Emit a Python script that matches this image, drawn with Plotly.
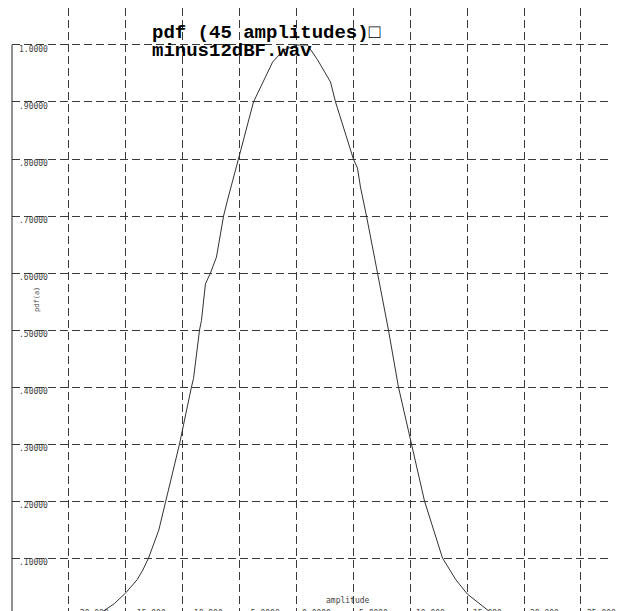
import plotly.graph_objects as go

# ---- data ----
amp = [-20.0, -17.6, -16.96, -16.0, -15.0, -14.0, -13.5, -13.0, -12.1, -11.34,
       -10.28, -9.23, -9.05, -8.52, -8.35, -8.0, -7.56, -7.03, -6.41, -6.06,
       -5.36, -5.1, -3.78, -2.1, -1.14, 0.0, 0.97, 1.85, 2.99, 3.43,
       5.0, 5.36, 5.62, 6.15, 7.12, 8.08, 8.96, 10.1, 11.25, 12.83,
       14.0, 15.0, 16.9, 17.6, 20.0]
pdf = [0.0, 0.0, 0.007, 0.02, 0.039, 0.062, 0.079, 0.10, 0.149, 0.214,
       0.30, 0.40, 0.415, 0.50, 0.517, 0.581, 0.60, 0.628, 0.70, 0.728,
       0.784, 0.80, 0.90, 0.970, 0.991, 1.0, 1.0, 0.974, 0.935, 0.90,
       0.80, 0.784, 0.751, 0.70, 0.60, 0.50, 0.40, 0.30, 0.20, 0.10,
       0.062, 0.037, 0.007, 0.0, 0.0]

x_tick_vals = [-20, -15, -10, -5, 0, 5, 10, 15, 20, 25]
x_tick_text = ["-20.000", "-15.000", "-10.000", "-5.0000", "0.0000",
               "5.0000", "10.000", "15.000", "20.000", "25.000"]
y_tick_vals = [0.1, 0.2, 0.3, 0.4, 0.5, 0.6, 0.7, 0.8, 0.9, 1.0]
y_tick_text = [".10000", ".20000", ".30000", ".40000", ".50000",
               ".60000", ".70000", ".80000", ".90000", "1.0000"]

title_line1 = "pdf (45 amplitudes)\u25a1"
title_line2 = "minus12dBF.wav"
x_title = "amplitude"
y_title = "pdf(a)"

GRID = "#3a3a3a"
TICKFONT = dict(family="DejaVu Sans Mono", size=8, color="#444444")

fig = go.Figure()
fig.add_trace(go.Scatter(x=amp, y=pdf, mode="lines",
                         line=dict(color="#333333", width=1),
                         showlegend=False, hoverinfo="skip"))

annotations = []
for v, t in zip(x_tick_vals, x_tick_text):
    annotations.append(dict(x=v, y=0, xref="x", yref="paper", text=t,
                            showarrow=False, xanchor="left", yanchor="middle",
                            xshift=4, yshift=-2, font=TICKFONT))
annotations += [
    dict(x=0.23, y=0.959, xref="paper", yref="paper", text=title_line1,
         showarrow=False, xanchor="left", yanchor="middle",
         font=dict(family="Liberation Mono", size=19, color="black", weight="bold")),
    dict(x=0.23, y=0.928, xref="paper", yref="paper", text=title_line2,
         showarrow=False, xanchor="left", yanchor="middle",
         font=dict(family="Liberation Mono", size=19, color="black", weight="bold")),
    dict(x=0.562, y=0.017, xref="paper", yref="paper", text=x_title,
         showarrow=False, xanchor="center", yanchor="middle", font=TICKFONT),
    dict(x=0.042, y=0.516, xref="paper", yref="paper", text=y_title,
         showarrow=False, xanchor="center", yanchor="middle", textangle=-90,
         font=dict(family="DejaVu Sans Mono", size=7, color="#444444")),
]

shapes = [dict(type="line", xref="paper", yref="y", x0=0, x1=0,
               y0=0, y1=max(y_tick_vals), line=dict(color="#222222", width=1))]

fig.update_layout(
    width=618, height=611,
    margin=dict(l=12, r=8, t=8, b=0, pad=0),
    paper_bgcolor="white", plot_bgcolor="white",
    xaxis=dict(range=[-25, 27.55], tickvals=x_tick_vals, showticklabels=False,
               showgrid=True, gridcolor=GRID, gridwidth=1, griddash="8px,4px",
               zeroline=False, showline=False, ticks=""),
    yaxis=dict(range=[0.00702, 1.0649], tickvals=y_tick_vals, ticktext=y_tick_text,
               showgrid=True, gridcolor=GRID, gridwidth=1, griddash="8px,4px",
               zeroline=False, showline=False, ticks="",
               ticklabelposition="inside", ticklabelstandoff=4, ticklabelshift=4,
               tickfont=TICKFONT),
    annotations=annotations,
    shapes=shapes,
)

fig.write_html("out.html")
